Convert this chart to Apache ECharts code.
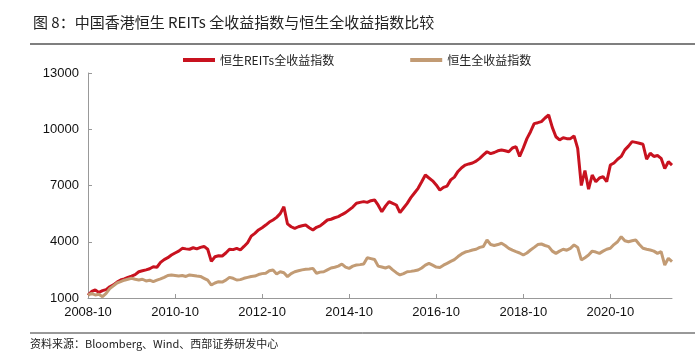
<!DOCTYPE html>
<html>
<head>
<meta charset="utf-8">
<script src="https://cdn.jsdelivr.net/npm/echarts@6/dist/echarts.min.js"></script>
<style>
  html, body { margin: 0; padding: 0; background: #fff; }
  #chart { width: 695px; height: 351px; }
</style>
</head>
<body>
<div id="chart"></div>
<script>
// monthly, 2008-10 .. 2022-03
const startYear = 2008, startMonth = 10;

const reitsTR = [
  1150, 1350, 1430, 1300, 1390, 1450, 1600, 1700, 1850, 1960, 2020, 2100,
  2170, 2250, 2400, 2450, 2500, 2560, 2670, 2640, 2900, 3050, 3150, 3290,
  3400, 3500, 3650, 3620, 3600, 3680, 3620, 3700, 3750, 3600, 2950, 3200,
  3250, 3240, 3400, 3600, 3580, 3650, 3560, 3750, 3950, 4300, 4450, 4630,
  4750, 4890, 5050, 5160, 5300, 5500, 5870, 4950, 4800, 4710, 4800, 4850,
  4890, 4750, 4630, 4770, 4850, 5000, 5160, 5200, 5280, 5340, 5450, 5550,
  5700, 5850, 6050, 6100, 6140, 6100, 6190, 6230, 5950, 5600, 5900, 6140,
  6050, 5960, 5550, 5800, 6050, 6350, 6600, 6850, 7200, 7560, 7400, 7250,
  7030, 6750, 6900, 6970, 7300, 7450, 7750, 7950, 8090, 8150, 8200, 8300,
  8450, 8630, 8800, 8700, 8760, 8850, 8890, 8850, 8800, 9000, 9070, 8550,
  9000, 9500, 9870, 10300, 10350, 10410, 10600, 10760, 10100, 9600, 9430, 9550,
  9500, 9500, 9650, 8980, 7000, 7800, 6800, 7560, 7200, 7400, 7470, 7200,
  8090, 8200, 8400, 8550, 8900, 9100, 9340, 9300, 9250, 9200, 8400, 8720,
  8550, 8600, 8450, 7900, 8270, 8090
];

const hsiTR = [
  1150, 1250, 1160, 1200, 1070, 1250, 1500, 1650, 1800, 1870, 1950, 2000,
  2050, 2000, 1960, 2000, 1910, 1950, 1870, 1950, 2020, 2100, 2200, 2230,
  2200, 2170, 2200, 2150, 2230, 2200, 2170, 2150, 2050, 1950, 1690, 1800,
  1870, 1850, 1950, 2100, 2050, 1960, 1980, 2050, 2100, 2150, 2170, 2250,
  2300, 2320, 2450, 2490, 2280, 2400, 2350, 2140, 2300, 2400, 2450, 2500,
  2530, 2550, 2580, 2320, 2380, 2400, 2500, 2600, 2640, 2700, 2810, 2650,
  2580, 2700, 2760, 2780, 2810, 3150, 3100, 3050, 2700, 2650, 2600, 2670,
  2500, 2350, 2230, 2300, 2400, 2420, 2450, 2490, 2600, 2750, 2850, 2750,
  2650, 2630, 2750, 2850, 2950, 3050, 3210, 3350, 3450, 3500, 3560, 3600,
  3700, 3750, 4090, 3850, 3800, 3850, 3920, 3800, 3650, 3550, 3470, 3400,
  3290, 3400, 3560, 3700, 3850, 3880, 3800, 3740, 3500, 3380, 3500, 3600,
  3550, 3650, 3830, 3700, 3030, 3150, 3290, 3500, 3450, 3380, 3500, 3600,
  3650, 3850, 4000, 4270, 4050, 4000, 4050, 4090, 3850, 3650, 3600, 3560,
  3500, 3380, 3470, 2760, 3120, 2940
];

const months = [];
for (let i = 0; i < reitsTR.length; i++) {
  const t = (startMonth - 1) + i;
  const y = startYear + Math.floor(t / 12);
  const m = (t % 12) + 1;
  months.push(y + '-' + (m < 10 ? '0' + m : m));
}

const chart = echarts.init(document.getElementById('chart'));
chart.setOption({
  animation: false,
  title: {
    text: '图 8：中国香港恒生 REITs 全收益指数与恒生全收益指数比较',
    left: 28,
    top: 10,
    textStyle: { fontFamily: 'Noto Sans CJK SC', fontSize: 15, fontWeight: 'normal', color: '#222' }
  },
  graphic: [
    { type: 'line', shape: { x1: 30, y1: 44, x2: 695, y2: 44 }, style: { stroke: '#555', lineWidth: 1.5 } },
    { type: 'line', shape: { x1: 30, y1: 333, x2: 695, y2: 333 }, style: { stroke: '#333', lineWidth: 1 } },
    {
      type: 'text', left: 30, top: 338,
      style: { text: '资料来源：Bloomberg、Wind、西部证券研发中心', font: '11px "Noto Sans CJK SC"', fill: '#222' }
    }
  ],
  legend: {
    top: 49,
    left: 178,
    itemGap: 76,
    itemWidth: 32,
    itemHeight: 4,
    icon: 'rect',
    textStyle: { fontFamily: 'Noto Sans CJK SC', fontSize: 12, color: '#222' },
    data: ['恒生REITs全收益指数', '恒生全收益指数']
  },
  grid: { left: 88, right: 23, top: 73, bottom: 53 },
  xAxis: {
    type: 'category',
    data: months,
    boundaryGap: false,
    axisLine: { lineStyle: { color: '#999' } },
    axisTick: { inside: true, interval: 23, length: 4, lineStyle: { color: '#999' } },
    axisLabel: { interval: 23, color: '#111', fontFamily: 'Liberation Sans', fontSize: 13, margin: 8 },
    splitLine: { show: false }
  },
  yAxis: {
    type: 'value',
    min: 1000,
    max: 13000,
    interval: 3000,
    axisLine: { show: true, lineStyle: { color: '#999' } },
    axisTick: { show: true, inside: true, length: 4, lineStyle: { color: '#999' } },
    axisLabel: {
      color: '#111', fontFamily: 'Liberation Sans', fontSize: 13, margin: 9,
      formatter: v => String(v)
    },
    splitLine: { show: false }
  },
  series: [
    {
      name: '恒生REITs全收益指数',
      type: 'line',
      data: reitsTR,
      symbol: 'none',
      lineStyle: { color: '#C8121F', width: 3 },
      itemStyle: { color: '#C8121F' }
    },
    {
      name: '恒生全收益指数',
      type: 'line',
      data: hsiTR,
      symbol: 'none',
      lineStyle: { color: '#C29B74', width: 3 },
      itemStyle: { color: '#C29B74' }
    }
  ]
});
</script>
</body>
</html>
